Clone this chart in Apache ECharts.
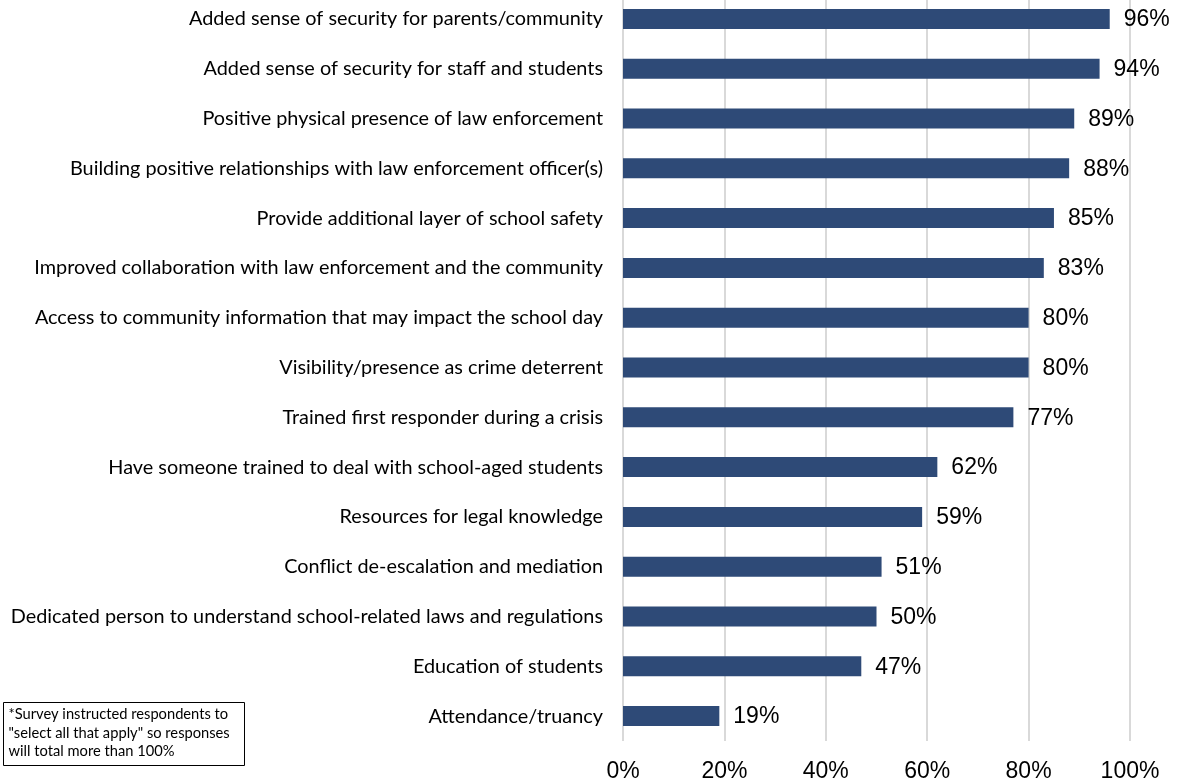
<!DOCTYPE html>
<html>
<head>
<meta charset="utf-8">
<script src="https://cdn.jsdelivr.net/npm/echarts@6/dist/echarts.min.js"></script>
<style>
  html, body { margin: 0; padding: 0; background: #ffffff; overflow: hidden; }
  /* the plot's first band starts slightly above the visible page edge */
  #chart { width: 1178px; height: 789px; margin-top: -6px; }
</style>
</head>
<body>
<div id="chart"></div>
<script>
// Reasons reported as benefits of having a school resource officer
const categories = [
  'Added sense of security for parents/community',
  'Added sense of security for staff and students',
  'Positive physical presence of law enforcement',
  'Building positive relationships with law enforcement officer(s)',
  'Provide additional layer of school safety',
  'Improved collaboration with law enforcement and the community',
  'Access to community information that may impact the school day',
  'Visibility/presence as crime deterrent',
  'Trained first responder during a crisis',
  'Have someone trained to deal with school-aged students',
  'Resources for legal knowledge',
  'Conflict de-escalation and mediation',
  'Dedicated person to understand school-related laws and regulations',
  'Education of students',
  'Attendance/truancy'
];
const percentages = [96, 94, 89, 88, 85, 83, 80, 80, 77, 62, 59, 51, 50, 47, 19];
const axisTicks = [0, 20, 40, 60, 80, 100];
const noteLines = [
  '*Survey instructed respondents to',
  '"select all that apply" so responses',
  'will total more than 100%'
];

const chart = echarts.init(document.getElementById('chart'), null, { renderer: 'canvas' });

chart.setOption({
  backgroundColor: '#ffffff',
  animation: false,
  grid: { left: 623, right: 48, top: 0, bottom: 41, containLabel: false },
  xAxis: {
    type: 'value',
    min: axisTicks[0],
    max: axisTicks[axisTicks.length - 1],
    interval: axisTicks[1] - axisTicks[0],
    axisLine: { show: false },
    axisTick: { show: false },
    axisLabel: {
      formatter: '{value}%',
      fontFamily: 'Liberation Sans, Arial, sans-serif',
      fontSize: 23,
      color: '#000000',
      margin: 19
    },
    splitLine: { show: true, lineStyle: { color: '#D9D9D9', width: 2 } }
  },
  yAxis: {
    type: 'category',
    data: categories,
    inverse: true,
    axisLine: { show: false },
    axisTick: { show: false },
    axisLabel: {
      fontFamily: 'Lato, Carlito, Calibri, sans-serif',
      fontSize: 19.85,
      color: '#000000',
      margin: 20
    }
  },
  series: [{
    type: 'bar',
    data: percentages,
    barWidth: 20,
    itemStyle: { color: '#2E4A77' },
    label: {
      show: true,
      position: 'right',
      distance: 14,
      offset: [0, 1],
      formatter: '{c}%',
      fontFamily: 'Liberation Sans, Arial, sans-serif',
      fontSize: 23,
      color: '#000000'
    }
  }],
  graphic: [{
    type: 'group',
    left: 3,
    top: 708,
    children: [
      {
        type: 'rect',
        shape: { x: 0, y: 0, width: 241, height: 63 },
        style: { fill: '#ffffff', stroke: '#000000', lineWidth: 1 }
      },
      {
        type: 'text',
        x: 5,
        y: 3,
        style: {
          text: noteLines.join('\n'),
          fontFamily: 'Lato, Carlito, Calibri, sans-serif',
          fontSize: 14.7,
          lineHeight: 18.5,
          fill: '#000000'
        }
      }
    ]
  }]
});
</script>
</body>
</html>
